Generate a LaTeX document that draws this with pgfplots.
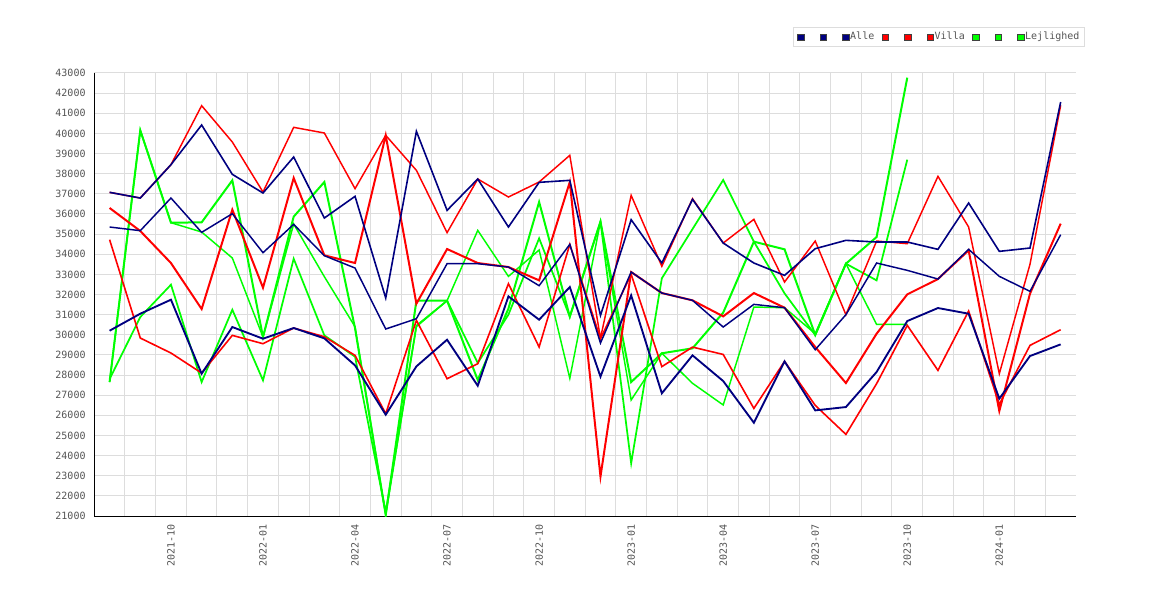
\documentclass[border=0pt]{standalone}
\usepackage{fontspec}
\setmonofont{DejaVu Sans Mono}
\usepackage{pgfplots}
\usepackage{pgfplotstable}
\pgfplotsset{compat=1.18}
\definecolor{navy}{RGB}{0,0,128}
\definecolor{vred}{RGB}{255,0,0}
\definecolor{lgreen}{RGB}{0,255,0}
\definecolor{lblgray}{RGB}{85,85,85}
\definecolor{gridgray}{RGB}{221,221,221}
\pgfplotstableread{
i A1 A2 A3 V1 V2 V3 L1 L2 L3
0 37073 35351 30202 37073 36295 34722 27652 27652 27800
1 36790 35169 31046 36790 35152 29838 40152 40152 30881
2 38447 36790 31742 38447 33563 29093 35566 35566 32487
3 40417 35086 28066 41377 31278 28099 35583 35103 27652
4 37967 36013 30384 39573 36212 29970 37669 33812 31245
5 37040 34076 29805 37089 32338 29556 29887 29887 27735
6 38828 35483 30335 40301 37785 30335 35866 35500 33778
7 35798 33927 29821 40020 33944 29900 37586 32884 29970
8 36874 33315 28480 37255 33563 28977 30322 30400 28911
9 31825 30285 26030 39904 39904 26080 21050 21050 21200
10 40103 30798 28430 38166 31543 30715 31694 30403 30450
11 36179 33530 29755 35070 34258 27818 31694 31694 31694
12 37735 33530 27470 37735 33563 28563 27755 35185 28600
13 35351 33364 31907 36841 33364 32536 31300 32900 31000
14 37570 32437 30748 37586 32702 29391 36594 34210 34790
15 37669 34490 32371 38911 37586 34490 30900 27838 30900
16 30960 29589 27920 29824 22956 29800 35617 35617 35617
17 35715 33116 31957 36924 33116 33000 27652 26762 23618
18 33563 32073 27093 33400 32073 28418 29080 29080 32803
19 36725 31709 28977 36758 31709 29387 29327 27590 35250
20 34556 30384 27702 34556 30914 29023 31100 26514 37687
21 33563 31510 25632 35732 32073 26344 34624 31377 34624
22 32950 31344 28679 32619 31344 28679 34243 31344 32057
23 34275 29258 26245 34655 29391 26494 29988 30053 29988
24 34689 30997 26411 30997 27603 25053 33530 33530 33530
25 34606 33563 28151 34655 30053 27570 34854 30516 32702
26 34606 33199 30682 34523 32007 30467 42768 30516 38696
27 34242 32768 31328 37868 32768 28232 nan nan nan
28 36543 34242 31046 35351 34192 31179 nan nan nan
29 34142 32901 26825 28066 26212 26543 nan nan nan
30 34308 32156 28944 33500 32040 29473 nan nan nan
31 41560 34970 29523 41393 35517 30251 nan nan nan
}\data
\pgfplotsset{
  legsq/.style={legend image code/.code={\draw[draw=darkgray, fill=#1, line width=0.5pt] (0pt,-2.35pt) rectangle (4.7pt,2.35pt);}}
}
\newcommand{\nolab}{\hspace*{5.1pt}}
\begin{document}
\begin{tikzpicture}
\fill[white] (0,0) rectangle (877.5pt,450pt);
\path[use as bounding box] (0,0) rectangle (877.5pt,450pt);
\begin{axis}[
  at={(70.7pt,63pt)}, anchor=south west,
  width=736.3pt, height=332.25pt, scale only axis,
  xmin=-0.5, xmax=31.5, ymin=21000, ymax=43000,
  scaled y ticks=false,
  axis x line=bottom, axis y line=left,
  axis line style={-, black, line width=0.75pt},
  xtick={2,5,8,11,14,17,20,23,26,29},
  xticklabels={2021-10,2022-01,2022-04,2022-07,2022-10,2023-01,2023-04,2023-07,2023-10,2024-01},
  minor xtick={0.5,1.5,...,30.5},
  ytick={21000,22000,...,43000},
  yticklabels={21000,22000,23000,24000,25000,26000,27000,28000,29000,30000,31000,32000,33000,34000,35000,36000,37000,38000,39000,40000,41000,42000,43000},
  major tick length=0pt, minor tick length=0pt,
  xmajorgrids=false, xminorgrids=true, ymajorgrids=true,
  grid style={gridgray, line width=0.75pt},
  minor grid style={gridgray, line width=0.75pt},
  ticklabel style={font=\ttfamily\fontsize{7.5}{9}\selectfont, text=lblgray},
  xticklabel style={rotate=90, anchor=east, xshift=-3pt},
  yticklabel style={anchor=east, xshift=-3pt},
  unbounded coords=jump,
  legend columns=-1,
  legend style={at={(0.7117,1.1038)}, anchor=north west, draw=gridgray, line width=0.75pt,
    font=\ttfamily\fontsize{7.5}{9}\selectfont, text=lblgray,
    inner xsep=3pt, inner ysep=2pt,
    nodes={inner xsep=0.75pt, inner ysep=1.5pt},
    /tikz/every even column/.append style={column sep=5pt}},
]
\addlegendimage{legsq=navy}\addlegendentry{\nolab}
\addlegendimage{legsq=navy}\addlegendentry{\nolab}
\addlegendimage{legsq=navy}\addlegendentry{Alle}
\addlegendimage{legsq=vred}\addlegendentry{\nolab}
\addlegendimage{legsq=vred}\addlegendentry{\nolab}
\addlegendimage{legsq=vred}\addlegendentry{Villa}
\addlegendimage{legsq=lgreen}\addlegendentry{\nolab}
\addlegendimage{legsq=lgreen}\addlegendentry{\nolab}
\addlegendimage{legsq=lgreen}\addlegendentry{Lejlighed}
\addplot[lgreen, line width=1.5pt, forget plot] table[x=i, y=L1] {\data};
\addplot[lgreen, line width=1.1pt, forget plot] table[x=i, y=L2] {\data};
\addplot[lgreen, line width=1.3pt, forget plot] table[x=i, y=L3] {\data};
\addplot[vred, line width=1.1pt, forget plot] table[x=i, y=V1] {\data};
\addplot[vred, line width=1.5pt, forget plot] table[x=i, y=V2] {\data};
\addplot[vred, line width=1.2pt, forget plot] table[x=i, y=V3] {\data};
\addplot[navy, line width=1.2pt, forget plot] table[x=i, y=A1] {\data};
\addplot[navy, line width=1.1pt, forget plot] table[x=i, y=A2] {\data};
\addplot[navy, line width=1.4pt, forget plot] table[x=i, y=A3] {\data};
\end{axis}
\end{tikzpicture}
\end{document}
